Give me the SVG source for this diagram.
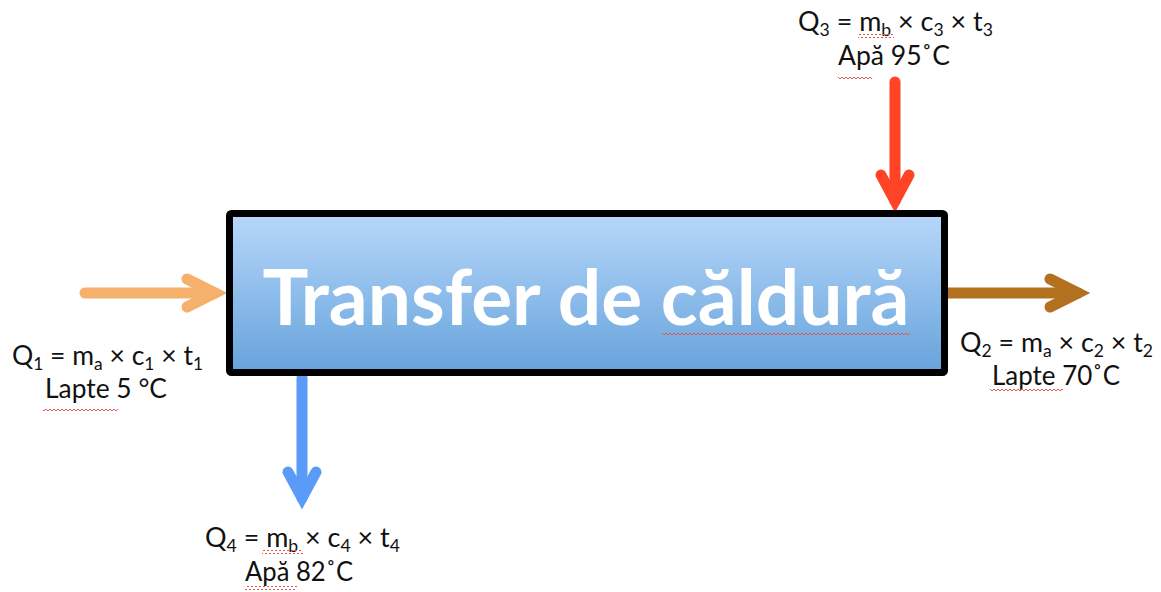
<svg xmlns="http://www.w3.org/2000/svg" width="1161" height="592" viewBox="0 0 1161 592">
<style>
.lbl{font-family:Lato,"Liberation Sans",sans-serif;font-size:26px;fill:#111;text-anchor:middle}
.sub{font-size:17px}
.arr{fill:none;stroke-width:11;stroke-linecap:round;stroke-linejoin:miter;stroke-miterlimit:4}
.title{font-family:Lato,"Open Sans","Liberation Sans",sans-serif;font-weight:bold;font-size:76px;fill:#fff;text-anchor:middle}
.sq{fill:url(#squig)}
</style>
<defs>
<linearGradient id="boxg" x1="0" y1="0" x2="0" y2="1">
<stop offset="0" stop-color="#B7D7FA"/>
<stop offset="1" stop-color="#66A3DB"/>
</linearGradient>
<pattern id="squig" width="4" height="4" patternUnits="userSpaceOnUse">
<path d="M0,3 L2,1 L4,3" fill="none" stroke="#E8574F" stroke-width="1"/>
</pattern>
</defs>
<g id="connectors">
<g id="arrow-q1" stroke="#F5B06C" class="arr">
<line x1="85" y1="293" x2="215" y2="293"/>
<polyline points="187,279 215,293 187,307"/>
</g>
<g id="arrow-q3" stroke="#FF4425" class="arr">
<line x1="895" y1="82" x2="895" y2="201"/>
<polyline points="881,175 895,201 909,175"/>
</g>
<g id="arrow-q4" stroke="#5A9BF8" class="arr">
<line x1="302" y1="378" x2="302" y2="498"/>
<polyline points="288,472 302,498 316,472"/>
</g>
<g id="arrow-q2" stroke="#B3701F" class="arr">
<line x1="948" y1="293" x2="1078" y2="293"/>
<polyline points="1050,279 1078,293 1050,307"/>
</g>
</g>
<g id="box">
<rect x="229.5" y="213.5" width="715" height="159" fill="url(#boxg)" stroke="#000" stroke-width="7" rx="2"/>
<text class="title" x="586" y="325" textLength="647" lengthAdjust="spacingAndGlyphs">Transfer de căldură</text>
<rect class="sq" x="662" y="331" width="248" height="4"/>
</g>
<g id="label-q3">
<text class="lbl" x="895.5" y="31" textLength="195" lengthAdjust="spacingAndGlyphs">Q<tspan class="sub" dy="5">3</tspan><tspan dy="-5"> = m</tspan><tspan class="sub" dy="5">b</tspan><tspan dy="-5"> × c</tspan><tspan class="sub" dy="5">3</tspan><tspan dy="-5"> × t</tspan><tspan class="sub" dy="5">3</tspan></text>
<text class="lbl" x="894" y="65" textLength="112" lengthAdjust="spacingAndGlyphs">Apă 95˚C</text>
<rect class="sq" x="858" y="34" width="36" height="4"/>
<rect class="sq" x="838" y="76" width="34" height="4"/>
</g>
<g id="label-q1">
<text class="lbl" x="107.5" y="365" textLength="191" lengthAdjust="spacingAndGlyphs">Q<tspan class="sub" dy="5">1</tspan><tspan dy="-5"> = m</tspan><tspan class="sub" dy="5">a</tspan><tspan dy="-5"> × c</tspan><tspan class="sub" dy="5">1</tspan><tspan dy="-5"> × t</tspan><tspan class="sub" dy="5">1</tspan></text>
<text class="lbl" x="106" y="398" textLength="122" lengthAdjust="spacingAndGlyphs">Lapte 5 °C</text>
<rect class="sq" x="43" y="407" width="75" height="4"/>
</g>
<g id="label-q2">
<text class="lbl" x="1056.5" y="352" textLength="193" lengthAdjust="spacingAndGlyphs">Q<tspan class="sub" dy="5">2</tspan><tspan dy="-5"> = m</tspan><tspan class="sub" dy="5">a</tspan><tspan dy="-5"> × c</tspan><tspan class="sub" dy="5">2</tspan><tspan dy="-5"> × t</tspan><tspan class="sub" dy="5">2</tspan></text>
<text class="lbl" x="1056" y="385" textLength="128" lengthAdjust="spacingAndGlyphs">Lapte 70˚C</text>
<rect class="sq" x="990" y="388" width="73" height="4"/>
</g>
<g id="label-q4">
<text class="lbl" x="302.5" y="547" textLength="195" lengthAdjust="spacingAndGlyphs">Q<tspan class="sub" dy="5">4</tspan><tspan dy="-5"> = m</tspan><tspan class="sub" dy="5">b</tspan><tspan dy="-5"> × c</tspan><tspan class="sub" dy="5">4</tspan><tspan dy="-5"> × t</tspan><tspan class="sub" dy="5">4</tspan></text>
<text class="lbl" x="299" y="581" textLength="108" lengthAdjust="spacingAndGlyphs">Apă 82˚C</text>
<rect class="sq" x="262" y="550" width="41" height="4"/>
<rect class="sq" x="245" y="586" width="52" height="4"/>
</g>
</svg>
